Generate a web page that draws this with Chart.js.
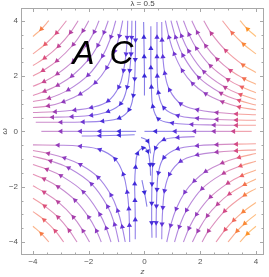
<!DOCTYPE html>
<html>
<head>
<meta charset="utf-8">
<script src="https://cdn.jsdelivr.net/npm/chart.js@4.4.0/dist/chart.umd.min.js"></script>
<style>
  html, body { margin: 0; padding: 0; background: #fff; }
</style>
</head>
<body>
<canvas id="c" width="269" height="277"></canvas>
<script>
// axis ticks
const majorTicks = [-4, -2, 0, 2, 4];
const minorTicks = [-3.5, -3, -2.5, -1.5, -1, -0.5, 0.5, 1, 1.5, 2.5, 3, 3.5];

// streamlines, listed in flow direction
// upper left: from the top edge, bending down and to the left
const ul1 = [[-3.43, 4.0], [-3.7, 3.7], [-4.0, 3.43]];
const ul2 = [[-2.8, 4.0], [-3.15, 3.56], [-3.56, 3.15], [-4.0, 2.8]];
const ul3 = [[-2.38, 4.0], [-2.65, 3.58], [-3.08, 3.08], [-3.58, 2.65], [-4.0, 2.38]];
const ul4 = [[-2.0, 4.0], [-2.2, 3.64], [-2.55, 3.14], [-3.14, 2.55], [-3.64, 2.2], [-4.0, 2.0]];
const ul5 = [[-1.63, 4.0], [-1.8, 3.6], [-2.08, 3.12], [-2.55, 2.55], [-3.12, 2.08], [-3.6, 1.8], [-4.0, 1.63]];
const ul6 = [[-1.3, 4.0], [-1.45, 3.58], [-1.67, 3.11], [-2.0, 2.6], [-2.6, 2.0], [-3.11, 1.67], [-3.58, 1.45], [-4.0, 1.3]];
const ul7 = [[-1.03, 4.0], [-1.2, 3.42], [-1.5, 2.73], [-2.02, 2.03], [-2.73, 1.5], [-3.42, 1.2], [-4.0, 1.08]];
const ul8 = [[-0.78, 4.0], [-0.9, 3.45], [-1.07, 2.9], [-1.35, 2.3], [-1.76, 1.76], [-2.3, 1.35], [-2.9, 1.07], [-3.45, 0.92], [-4.0, 0.86]];
const ul9 = [[-0.6, 4.0], [-0.62, 3.4], [-0.66, 2.8], [-0.75, 2.2], [-0.92, 1.6], [-1.3, 1.1], [-1.9, 0.86], [-2.5, 0.77], [-3.2, 0.71], [-4.0, 0.68]];
const ul10 = [[-0.45, 4.0], [-0.46, 3.4], [-0.48, 2.8], [-0.53, 2.2], [-0.62, 1.6], [-0.85, 1.0], [-1.3, 0.72], [-1.9, 0.58], [-2.6, 0.53], [-3.3, 0.51], [-4.0, 0.5]];
const ul11 = [[-0.32, 4.0], [-0.32, 3.3], [-0.33, 2.6], [-0.35, 1.9], [-0.4, 1.3], [-0.55, 0.78], [-0.9, 0.48], [-1.5, 0.37], [-2.2, 0.34], [-3.0, 0.33], [-3.9, 0.33]];

// upper right: from the right edge, bending up
const ur1 = [[4.0, 3.43], [3.7, 3.7], [3.43, 4.0]];
const ur2 = [[4.0, 2.8], [3.56, 3.15], [3.15, 3.56], [2.8, 4.0]];
const ur3 = [[4.0, 2.13], [3.54, 2.4], [2.92, 2.92], [2.4, 3.54], [2.13, 4.0]];
const ur4 = [[4.0, 1.7], [3.58, 1.9], [3.09, 2.2], [2.61, 2.61], [2.2, 3.09], [1.9, 3.58], [1.7, 4.0]];
const ur5 = [[4.0, 1.4], [3.5, 1.6], [3.0, 1.87], [2.37, 2.37], [1.87, 3.0], [1.6, 3.5], [1.4, 4.0]];
const ur6 = [[4.0, 1.15], [3.45, 1.33], [2.9, 1.59], [2.14, 2.15], [1.59, 2.9], [1.33, 3.45], [1.15, 4.0]];
const ur7 = [[4.0, 0.95], [3.4, 1.12], [2.75, 1.38], [1.95, 1.95], [1.38, 2.75], [1.12, 3.4], [0.95, 4.0]];
const ur8 = [[4.0, 0.78], [3.4, 0.88], [2.8, 1.07], [2.2, 1.36], [1.73, 1.73], [1.36, 2.2], [1.07, 2.8], [0.88, 3.4], [0.75, 4.0]];
const ur9 = [[4.0, 0.6], [3.3, 0.63], [2.6, 0.68], [1.9, 0.78], [1.3, 1.0], [0.9, 1.5], [0.73, 2.1], [0.66, 2.7], [0.63, 3.3], [0.62, 3.95]];
const ur10 = [[4.0, 0.4], [3.3, 0.41], [2.6, 0.43], [1.9, 0.47], [1.2, 0.57], [0.7, 0.85], [0.5, 1.4], [0.46, 2.0], [0.45, 2.7], [0.45, 3.4], [0.45, 3.95]];
const ur11 = [[4.0, 0.22], [3.3, 0.22], [2.5, 0.23], [1.7, 0.25], [1.0, 0.3], [0.5, 0.45], [0.3, 0.9], [0.25, 1.6], [0.23, 2.3], [0.23, 3.0], [0.23, 3.8]];
const ur12 = [[0.0, 1.3], [0.0, 2.0], [-0.01, 2.7], [-0.02, 3.4], [-0.03, 3.95]];

// lower left: from the bottom edge, bending up and to the left
const ll1 = [[-3.43, -4.0], [-3.7, -3.7], [-4.0, -3.43]];
const ll2 = [[-2.9, -4.0], [-3.2, -3.6], [-3.6, -3.2], [-4.0, -2.9]];
const ll3 = [[-2.42, -4.0], [-2.7, -3.58], [-3.1, -3.1], [-3.58, -2.7], [-4.0, -2.42]];
const ll4 = [[-1.97, -4.0], [-2.2, -3.6], [-2.55, -3.1], [-3.1, -2.55], [-3.6, -2.2], [-4.0, -1.97]];
const ll5 = [[-1.55, -4.0], [-1.72, -3.6], [-2.0, -3.1], [-2.49, -2.49], [-3.1, -2.0], [-3.6, -1.72], [-4.0, -1.55]];
const ll6 = [[-1.2, -4.0], [-1.37, -3.5], [-1.6, -3.0], [-2.19, -2.19], [-3.0, -1.6], [-3.5, -1.37], [-4.0, -1.2]];
const ll7 = [[-0.92, -4.0], [-1.07, -3.37], [-1.32, -2.72], [-1.9, -1.9], [-2.72, -1.32], [-3.37, -1.07], [-4.0, -0.9]];
const ll8 = [[-0.69, -4.0], [-0.8, -3.45], [-0.96, -2.87], [-1.2, -2.3], [-1.66, -1.66], [-2.3, -1.2], [-2.87, -0.96], [-3.45, -0.8], [-4.0, -0.69]];
const ll9 = [[-0.53, -4.0], [-0.54, -3.4], [-0.56, -2.8], [-0.62, -2.2], [-0.76, -1.55], [-1.05, -1.0], [-1.6, -0.66], [-2.3, -0.54], [-3.1, -0.5], [-4.0, -0.49]];
const ll10 = [[-0.33, -3.9], [-0.33, -3.2], [-0.34, -2.5], [-0.35, -1.9], [-0.32, -1.3], [-0.25, -0.8], [-0.05, -0.6], [0.12, -0.72], [0.2, -1.2], [0.22, -1.6]];
const ll11 = [[-0.35, -0.12], [-0.9, -0.14], [-1.6, -0.16], [-2.25, -0.17]];

// lower right: from the right edge, bending down
const lr1 = [[4.0, -3.43], [3.7, -3.7], [3.43, -4.0]];
const lr2 = [[4.0, -3.0], [3.6, -3.33], [3.33, -3.6], [3.0, -4.0]];
const lr3 = [[4.0, -2.57], [3.55, -2.9], [3.21, -3.21], [2.9, -3.55], [2.57, -4.0]];
const lr4 = [[4.0, -2.07], [3.6, -2.3], [2.88, -2.88], [2.3, -3.6], [2.07, -4.0]];
const lr5 = [[4.0, -1.72], [3.6, -1.92], [3.05, -2.26], [2.63, -2.63], [2.26, -3.05], [1.92, -3.6], [1.72, -4.0]];
const lr6 = [[4.0, -1.4], [3.5, -1.6], [3.0, -1.87], [2.37, -2.37], [1.87, -3.0], [1.6, -3.5], [1.4, -4.0]];
const lr7 = [[4.0, -1.08], [3.45, -1.25], [2.85, -1.51], [2.07, -2.07], [1.51, -2.85], [1.25, -3.45], [1.08, -4.0]];
const lr8 = [[4.0, -0.8], [3.4, -0.94], [2.8, -1.14], [2.2, -1.45], [1.79, -1.79], [1.45, -2.2], [1.14, -2.8], [0.94, -3.4], [0.8, -4.0]];
const lr9 = [[4.0, -0.67], [3.3, -0.7], [2.6, -0.75], [1.9, -0.85], [1.3, -1.08], [0.9, -1.55], [0.72, -2.15], [0.66, -2.75], [0.63, -3.35], [0.62, -3.9]];
const lr10 = [[4.0, -0.45], [3.3, -0.46], [2.6, -0.48], [1.9, -0.52], [1.2, -0.63], [0.7, -0.95], [0.5, -1.5], [0.45, -2.1], [0.43, -2.7], [0.42, -3.3], [0.42, -3.85]];
const lr11 = [[1.8, -0.19], [1.2, -0.22], [0.7, -0.3], [0.4, -0.6], [0.3, -1.2], [0.27, -1.9], [0.26, -2.6], [0.26, -3.3], [0.27, -3.85]];

// along the z axis and the small pieces near the middle
const axisRight = [[3.85, 0.0], [3.2, 0.0], [2.5, 0.0], [1.8, 0.0], [1.1, 0.0], [0.4, 0.0], [0.0, 0.0]];
const axisLeft = [[-0.3, 0.0], [-0.9, 0.0], [-1.6, 0.0], [-2.3, 0.0], [-3.0, 0.0], [-3.7, 0.0]];
const mid1 = [[-0.12, -0.22], [0.12, -0.35], [0.22, -0.8]];
const mid2 = [[-0.09, -1.76], [0.0, -2.2], [0.09, -2.72]];

const streamlines = [
  ul1, ul2, ul3, ul4, ul5, ul6, ul7, ul8, ul9, ul10, ul11,
  ur1, ur2, ur3, ur4, ur5, ur6, ur7, ur8, ur9, ur10, ur11, ur12,
  ll1, ll2, ll3, ll4, ll5, ll6, ll7, ll8, ll9, ll10, ll11,
  lr1, lr2, lr3, lr4, lr5, lr6, lr7, lr8, lr9, lr10, lr11,
  axisRight, axisLeft, mid1, mid2
];

// colour by flow speed: blue (slow) -> purple -> pink -> orange (fast)
const stops = [
  [0.0, [55, 40, 215]],
  [0.08, [85, 50, 220]],
  [0.18, [120, 55, 205]],
  [0.35, [150, 60, 185]],
  [0.5, [185, 65, 155]],
  [0.62, [215, 75, 130]],
  [0.72, [238, 100, 95]],
  [0.82, [248, 128, 62]],
  [1.0, [255, 150, 35]]
];
function speedColor(x, y, alpha) {
  const s = Math.abs(x) * Math.hypot(x + 0.7, y);
  const t = Math.min(s / 22, 1);
  let i = 0;
  while (i < stops.length - 2 && t > stops[i + 1][0]) i++;
  const [t0, c0] = stops[i], [t1, c1] = stops[i + 1];
  const f = (t - t0) / (t1 - t0);
  const c = c0.map((v, k) => Math.round(v + (c1[k] - v) * f));
  return `rgba(${c[0]},${c[1]},${c[2]},${alpha})`;
}

function fmt(v) {
  return v < 0 ? '\u2212' + Math.abs(v) : String(v);
}

const isArrow = ctx => ctx.dataIndex > 0 && ctx.dataIndex < ctx.dataset.data.length - 1;

const datasets = streamlines.map(line => ({
  data: line.map(([x, y]) => ({ x, y })),
  showLine: true,
  tension: 0.4,
  borderWidth: 1.1,
  segment: {
    borderColor: ctx => speedColor(
      (ctx.p0.parsed.x + ctx.p1.parsed.x) / 2,
      (ctx.p0.parsed.y + ctx.p1.parsed.y) / 2, 0.6)
  },
  pointStyle: 'triangle',
  pointRadius: ctx => isArrow(ctx) ? 3 : 0,
  pointBorderWidth: 0,
  pointBackgroundColor: ctx => {
    const p = ctx.dataset.data[ctx.dataIndex];
    return speedColor(p.x, p.y, 1);
  },
  // point the arrow along the line
  rotation: ctx => {
    const d = ctx.dataset.data, i = ctx.dataIndex;
    const a = d[Math.max(i - 1, 0)], b = d[Math.min(i + 1, d.length - 1)];
    const sx = ctx.chart.scales.x, sy = ctx.chart.scales.y;
    const dx = sx.getPixelForValue(b.x) - sx.getPixelForValue(a.x);
    const dy = sy.getPixelForValue(b.y) - sy.getPixelForValue(a.y);
    return Math.atan2(dx, -dy) * 180 / Math.PI;
  }
}));

// frame with inward ticks, plot label and the big letters
const framePlugin = {
  id: 'frame',
  afterDatasetsDraw(chart) {
    const { ctx, chartArea: a, scales: { x, y } } = chart;
    ctx.save();
    ctx.strokeStyle = '#a8a8a8';
    ctx.lineWidth = 1;
    ctx.strokeRect(a.left + 0.5, a.top + 0.5, a.right - a.left - 1, a.bottom - a.top - 1);
    const tick = (vals, len) => {
      ctx.beginPath();
      vals.forEach(v => {
        const px = Math.round(x.getPixelForValue(v)) + 0.5;
        ctx.moveTo(px, a.bottom); ctx.lineTo(px, a.bottom - len);
        ctx.moveTo(px, a.top); ctx.lineTo(px, a.top + len);
        const py = Math.round(y.getPixelForValue(v)) + 0.5;
        ctx.moveTo(a.left, py); ctx.lineTo(a.left + len, py);
        ctx.moveTo(a.right, py); ctx.lineTo(a.right - len, py);
      });
      ctx.stroke();
    };
    tick(majorTicks, 4);
    tick(minorTicks, 2.5);

    ctx.fillStyle = '#444';
    ctx.font = '8px "Liberation Sans", Arial, sans-serif';
    ctx.textAlign = 'center';
    ctx.textBaseline = 'alphabetic';
    ctx.fillText('\u03bb = 0.5', 142.5, 5.5);

    ctx.fillStyle = '#000';
    ctx.font = 'italic 33px "Liberation Sans", Arial, sans-serif';
    ctx.textAlign = 'left';
    ctx.fillText('A', x.getPixelForValue(-2.58), y.getPixelForValue(2.45));
    ctx.fillText('C', x.getPixelForValue(-1.25), y.getPixelForValue(2.45));
    ctx.restore();
  }
};

const axisFont = { size: 8, family: '"Liberation Sans", Arial, sans-serif' };

new Chart(document.getElementById('c'), {
  type: 'scatter',
  data: { datasets },
  options: {
    responsive: false,
    animation: false,
    events: [],
    devicePixelRatio: 1,
    layout: { padding: { top: 8, right: 5, left: 0, bottom: 0 } },
    plugins: { legend: { display: false }, tooltip: { enabled: false } },
    scales: {
      x: {
        type: 'linear', min: -4.43, max: 4.29,
        afterFit: s => { s.height = 22; },
        afterBuildTicks: s => { s.ticks = majorTicks.map(v => ({ value: v })); },
        grid: { display: false, drawTicks: false },
        border: { display: false },
        ticks: { padding: 2, font: axisFont, color: '#555', maxRotation: 0, autoSkip: false, callback: v => fmt(v) },
        title: { display: true, text: 'z', color: '#555', font: { size: 8, style: 'italic', family: '"Liberation Sans", Arial, sans-serif' }, padding: { top: 0, bottom: 0 } }
      },
      y: {
        type: 'linear', min: -4.47, max: 4.46,
        afterFit: s => { s.width = 21; },
        afterBuildTicks: s => { s.ticks = majorTicks.map(v => ({ value: v })); },
        grid: { display: false, drawTicks: false },
        border: { display: false },
        ticks: { padding: 3, font: axisFont, color: '#555', autoSkip: false, callback: v => fmt(v) },
        title: { display: true, text: '\u03c9', color: '#555', font: { size: 8, style: 'italic', family: '"Liberation Sans", Arial, sans-serif' }, padding: { top: 0, bottom: 0 } }
      }
    }
  },
  plugins: [framePlugin]
});
</script>
</body>
</html>
